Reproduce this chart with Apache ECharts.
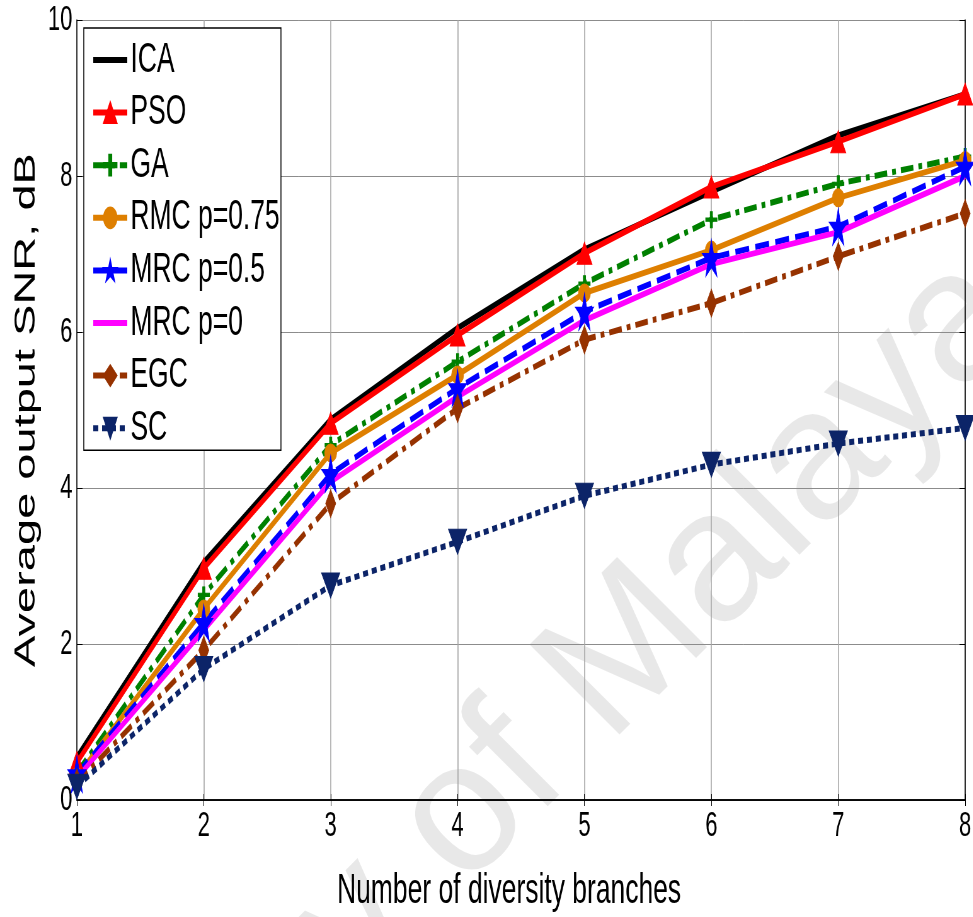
<!DOCTYPE html>
<html>
<head>
<meta charset="utf-8">
<script src="https://cdn.jsdelivr.net/npm/echarts@6/dist/echarts.min.js"></script>
<style>
html, body { margin: 0; padding: 0; background: #fff; overflow: hidden; }
/* the original figure is squeezed horizontally, so draw wide and squeeze */
#main { width: 1545px; height: 917px; transform: scaleX(0.63); transform-origin: 0 0; }
</style>
</head>
<body>
<div id="main"></div>
<script>
// data
var branches = [1, 2, 3, 4, 5, 6, 7, 8];
var ica   = [0.55, 3.05, 4.88, 6.05, 7.06, 7.80, 8.52, 9.05];
var pso   = [0.48, 2.97, 4.83, 5.96, 7.01, 7.86, 8.44, 9.05];
var ga    = [0.35, 2.63, 4.55, 5.62, 6.62, 7.44, 7.90, 8.25];
var rmc   = [0.30, 2.45, 4.45, 5.45, 6.50, 7.05, 7.72, 8.20];
var mrc05 = [0.33, 2.27, 4.18, 5.28, 6.26, 6.95, 7.35, 8.12];
var mrc0  = [0.28, 2.18, 4.08, 5.17, 6.15, 6.87, 7.28, 8.00];
var egc   = [0.22, 1.92, 3.80, 5.02, 5.90, 6.37, 6.97, 7.52];
var sc    = [0.17, 1.68, 2.75, 3.31, 3.90, 4.30, 4.57, 4.77];

var SX = 0.63;
var FONT = 'Liberation Sans, Arial, sans-serif';
var starPath = 'path://M50 0 L61.17 34.63 L97.55 34.55 L68.07 55.87 L79.39 90.45 L50 69 L20.61 90.45 L31.93 55.87 L2.45 34.55 L38.83 34.63 Z';
var plusPath = 'path://M40 0 H60 V40 H100 V60 H60 V100 H40 V60 H0 V40 H40 Z';

function pts(arr) {
  return arr.map(function (v, i) { return [branches[i], v]; });
}

function mk(name, arr, color, dash, symbol, size, rot, w) {
  return {
    name: name,
    type: 'line',
    data: pts(arr),
    showSymbol: symbol !== 'none',
    symbol: symbol,
    symbolSize: size,
    symbolRotate: rot || 0,
    lineStyle: { color: color, width: w || 6, type: dash, cap: 'butt' },
    itemStyle: { color: color, borderColor: color, borderWidth: 1 },
    emphasis: { disabled: true },
    animation: false
  };
}

var chart = echarts.init(document.getElementById('main'));

var option = {
  animation: false,
  grid: { left: 122, right: 13, top: 20, bottom: 117 },
  legend: {
    orient: 'vertical',
    left: 133,
    top: 28,
    padding: [10, 2, 0, 12],
    itemGap: 8.6,
    itemWidth: 54,
    itemHeight: 26,
    backgroundColor: '#fff',
    borderColor: '#000',
    borderWidth: 1.5,
    borderRadius: 0,
    lineStyle: { width: 'inherit' },
    textStyle: { fontFamily: FONT, fontSize: 42, lineHeight: 44, color: '#000' },
    data: [
      { name: 'ICA', itemStyle: { opacity: 0 } },
      'PSO', 'GA', 'RMC p=0.75', 'MRC p=0.5',
      { name: 'MRC p=0', itemStyle: { opacity: 0 } },
      'EGC', 'SC'
    ],
    selectedMode: false
  },
  xAxis: [{
    type: 'value', min: 1, max: 8, interval: 1,
    name: 'Number of diversity branches',
    nameLocation: 'middle', nameGap: 70,
    nameTextStyle: { fontFamily: FONT, fontSize: 42, color: '#000', padding: [0, 38, 0, 0] },
    axisLine: { lineStyle: { color: '#000', width: 1.5 } },
    axisTick: { inside: true, length: 6, lineStyle: { color: '#000' } },
    axisLabel: { fontFamily: FONT, fontSize: 35, color: '#000', margin: 9 },
    splitLine: { show: true, lineStyle: { color: '#a6a6a6', width: 1.6 } }
  }, {
    type: 'value', min: 1, max: 8, interval: 1, position: 'top',
    axisLine: { lineStyle: { color: '#000', width: 1.5 } },
    axisTick: { inside: true, length: 6, lineStyle: { color: '#000' } },
    axisLabel: { show: false }, splitLine: { show: false }
  }],
  yAxis: [{
    type: 'value', min: 0, max: 10, interval: 2,
    name: 'Average output SNR, dB',
    nameLocation: 'middle', nameGap: 55,
    nameTextStyle: { fontFamily: FONT, fontSize: 47, color: '#000' },
    axisLine: { lineStyle: { color: '#000', width: 1.5 } },
    axisTick: { inside: true, length: 9, lineStyle: { color: '#000' } },
    axisLabel: { fontFamily: FONT, fontSize: 35, color: '#000', margin: 7 },
    splitLine: { show: true, lineStyle: { color: '#8c8c8c', width: 1 } }
  }, {
    type: 'value', min: 0, max: 10, interval: 2, position: 'right',
    axisLine: { lineStyle: { color: '#000', width: 1.5 } },
    axisTick: { inside: true, length: 9, lineStyle: { color: '#000' } },
    axisLabel: { show: false }, splitLine: { show: false }
  }],
  // page watermark, undo the squeeze so it keeps its own proportions
  graphic: [{
    type: 'group',
    silent: true,
    x: 1060 / SX, y: 353,
    scaleX: 1 / SX,
    z: 1,
    children: [{
      type: 'text',
      rotation: 0.785,
      style: {
        text: 'University of Malaya',
        font: '185px ' + FONT,
        fill: 'rgba(0,0,0,0.09)',
        textAlign: 'right',
        textVerticalAlign: 'bottom'
      }
    }]
  }],
  series: [
    mk('ICA', ica, '#000000', 'solid', 'none', 0),
    mk('PSO', pso, '#ff0000', 'solid', 'triangle', [24, 22]),
    mk('GA', ga, '#008000', [20, 8, 6, 8], plusPath, [18, 16]),
    mk('RMC p=0.75', rmc, '#de7f00', 'solid', 'circle', [19, 18]),
    mk('MRC p=0.5', mrc05, '#0000ff', [22, 10], starPath, [29, 37]),
    mk('MRC p=0', mrc0, '#ff00ff', 'solid', 'none', 0),
    mk('EGC', egc, '#963200', [20, 8, 6, 8], 'diamond', [16, 28]),
    mk('SC', sc, '#0c2468', [8, 6], 'triangle', [29, 25], 180)
  ]
};

chart.setOption(option);
</script>
</body>
</html>
